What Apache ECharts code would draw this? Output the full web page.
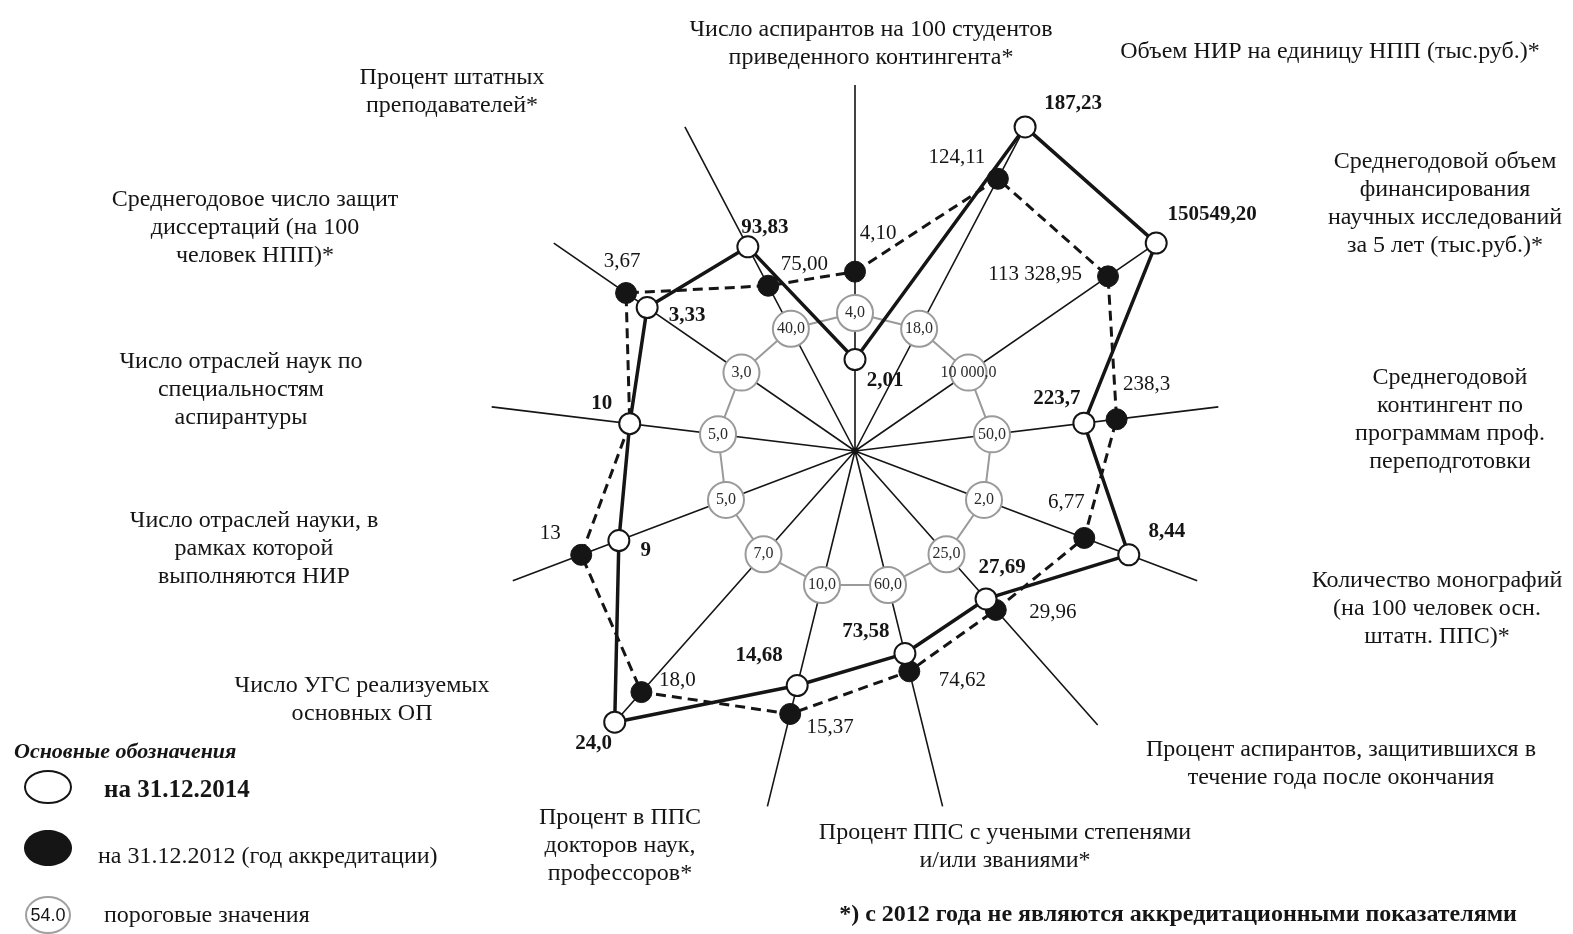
<!DOCTYPE html>
<html>
<head>
<meta charset="utf-8">
<script src="https://cdn.jsdelivr.net/npm/echarts@6/dist/echarts.min.js"></script>
<style>
  html, body { margin: 0; background: #fff; }
  #chart { width: 1573px; height: 934px; }
</style>
</head>
<body>
<div id="chart"></div>
<script>
"use strict";

/* ===== данные ===== */
// 13 показателей, по часовой стрелке от вертикали
const indicators = [
  "Число аспирантов на 100 студентов\nприведенного контингента*",
  "Объем НИР на единицу НПП (тыс.руб.)*",
  "Среднегодовой объем\nфинансирования\nнаучных исследований\nза 5 лет (тыс.руб.)*",
  "Среднегодовой\nконтингент по\nпрограммам проф.\nпереподготовки",
  "Количество монографий\n(на 100 человек осн.\nштатн. ППС)*",
  "Процент аспирантов, защитившихся в\nтечение года после окончания",
  "Процент ППС с учеными степенями\nи/или званиями*",
  "Процент в ППС\nдокторов наук,\nпрофессоров*",
  "Число УГС реализуемых\nосновных ОП",
  "Число отраслей науки, в\nрамках которой\nвыполняются НИР",
  "Число отраслей наук по\nспециальностям\nаспирантуры",
  "Среднегодовое число защит\nдиссертаций (на 100\nчеловек НПП)*",
  "Процент штатных\nпреподавателей*"
];
const values2014 = ["2,01", "187,23", "150549,20", "223,7", "8,44", "27,69", "73,58", "14,68", "24,0", "9", "10", "3,33", "93,83"];
const values2012 = ["4,10", "124,11", "113 328,95", "238,3", "6,77", "29,96", "74,62", "15,37", "18,0", "13", "10", "3,67", "75,00"];
const thresholds = ["4,0", "18,0", "10 000,0", "50,0", "2,0", "25,0", "60,0", "10,0", "7,0", "5,0", "5,0", "3,0", "40,0"];
// положение точки на луче, % длины луча (схема без общего масштаба)
const level2014 = [25, 100, 100, 63, 80, 54, 57, 66, 99, 69, 62, 69, 63];
const level2012 = [49, 84, 84, 72, 67, 58, 62, 74, 88, 80, 62, 76, 51];
const levelThreshold = [37.7, 37.7, 37.7, 37.7, 37.7, 37.7, 37.7, 37.7, 37.7, 37.7, 37.7, 37.7, 37.7];

/* ===== оформление ===== */
const SERIF = '"Liberation Serif", "Times New Roman", serif';
const INK = "#151515";

// сдвиг подписей относительно точки
const off2014 = [[30, 21], [48, -23], [56, -29], [-27, -25], [38, -23], [16, -31], [-39, -22], [-38, -30], [-21, 21], [27, 10], [-28, -20], [40, 8], [17, -19]];
const off2012 = [[23, -38], [-41, -21], [-73, -2], [30, -35], [-18, -35], [57, 3], [53, 9], [40, 14], [36, -12], [-31, -21], null, [-4, -32], [36, -21]];

// подписи лучей: [центр x, центр первой строки y]
const titlePos = [
  [871, 30], [1330, 52], [1445, 162], [1450, 378], [1437, 581], [1341, 750], [1005, 833],
  [620, 818], [362, 686], [254, 521], [241, 362], [255, 200], [452, 78]
];

function ring(levels, labels, offs) {
  const pts = levels.map((v, i) => ({
    value: [v, i],
    label: offs && offs[i] ? { show: true, formatter: labels[i], offset: offs[i] } : { show: false }
  }));
  // замыкаем контур
  pts.push({ value: [levels[0], levels.length], symbol: "none", label: { show: false } });
  return pts;
}

const chart = echarts.init(document.getElementById("chart"), null, { renderer: "canvas" });

const graphics = indicators.map((name, i) => ({
  type: "text",
  x: titlePos[i][0],
  y: titlePos[i][1] - 14,
  style: { text: name, font: "24px " + SERIF, fill: INK, align: "center", verticalAlign: "top", lineHeight: 28 }
}));

// легенда
graphics.push(
  { type: "text", x: 14, y: 752, style: { text: "Основные обозначения", font: "italic bold 22px " + SERIF, fill: INK, verticalAlign: "middle" } },
  { type: "ellipse", shape: { cx: 48, cy: 787, rx: 23, ry: 16 }, style: { fill: "#fff", stroke: INK, lineWidth: 2 } },
  { type: "text", x: 104, y: 791, style: { text: "на 31.12.2014", font: "bold 25px " + SERIF, fill: INK, verticalAlign: "middle" } },
  { type: "ellipse", shape: { cx: 48, cy: 848, rx: 24, ry: 18 }, style: { fill: INK } },
  { type: "text", x: 98, y: 857, style: { text: "на 31.12.2012 (год аккредитации)", font: "24px " + SERIF, fill: INK, verticalAlign: "middle" } },
  { type: "ellipse", shape: { cx: 48, cy: 915, rx: 22, ry: 18 }, style: { fill: "#fff", stroke: "#a0a0a0", lineWidth: 2 } },
  { type: "text", x: 48, y: 916, style: { text: "54.0", font: '18px "Liberation Sans", Arial, sans-serif', fill: INK, align: "center", verticalAlign: "middle" } },
  { type: "text", x: 104, y: 916, style: { text: "пороговые значения", font: "24px " + SERIF, fill: INK, verticalAlign: "middle" } },
  { type: "text", x: 1178, y: 915, style: { text: "*) с 2012 года не являются аккредитационными показателями", font: "bold 24px " + SERIF, fill: INK, align: "center", verticalAlign: "middle" } }
);

const option = {
  animation: false,
  backgroundColor: "#fff",
  polar: { center: [855, 451], radius: 366 },
  angleAxis: {
    type: "value", min: 0, max: indicators.length, interval: 1,
    startAngle: 90, clockwise: true,
    axisLine: { show: false }, axisTick: { show: false }, axisLabel: { show: false },
    splitLine: { show: true, lineStyle: { color: INK, width: 1.6 } }
  },
  radiusAxis: {
    type: "value", min: 0, max: 100,
    axisLine: { show: false }, axisTick: { show: false }, axisLabel: { show: false },
    splitLine: { show: false }
  },
  graphic: graphics,
  series: [
    {
      name: "пороговые значения", type: "line", coordinateSystem: "polar", z: 3,
      data: ring(levelThreshold, thresholds, thresholds.map(() => [0, 0])),
      symbol: "circle", symbolSize: 36,
      lineStyle: { color: "#9a9a9a", width: 2 },
      itemStyle: { color: "#fff", borderColor: "#9a9a9a", borderWidth: 2 },
      label: { position: "inside", color: "#2a2a2a", fontFamily: SERIF, fontSize: 16 }
    },
    {
      name: "на 31.12.2012 (год аккредитации)", type: "line", coordinateSystem: "polar", z: 4,
      data: ring(level2012, values2012, off2012),
      symbol: "circle", symbolSize: 21,
      lineStyle: { color: INK, width: 3, type: [10, 6] },
      itemStyle: { color: INK, borderColor: INK, borderWidth: 1 },
      label: { position: "inside", color: INK, fontFamily: SERIF, fontSize: 21 }
    },
    {
      name: "на 31.12.2014", type: "line", coordinateSystem: "polar", z: 5,
      data: ring(level2014, values2014, off2014),
      symbol: "circle", symbolSize: 21,
      lineStyle: { color: INK, width: 3.5 },
      itemStyle: { color: "#fff", borderColor: INK, borderWidth: 2 },
      label: { position: "inside", color: INK, fontFamily: SERIF, fontSize: 21, fontWeight: "bold" }
    }
  ]
};

chart.setOption(option);
</script>
</body>
</html>
